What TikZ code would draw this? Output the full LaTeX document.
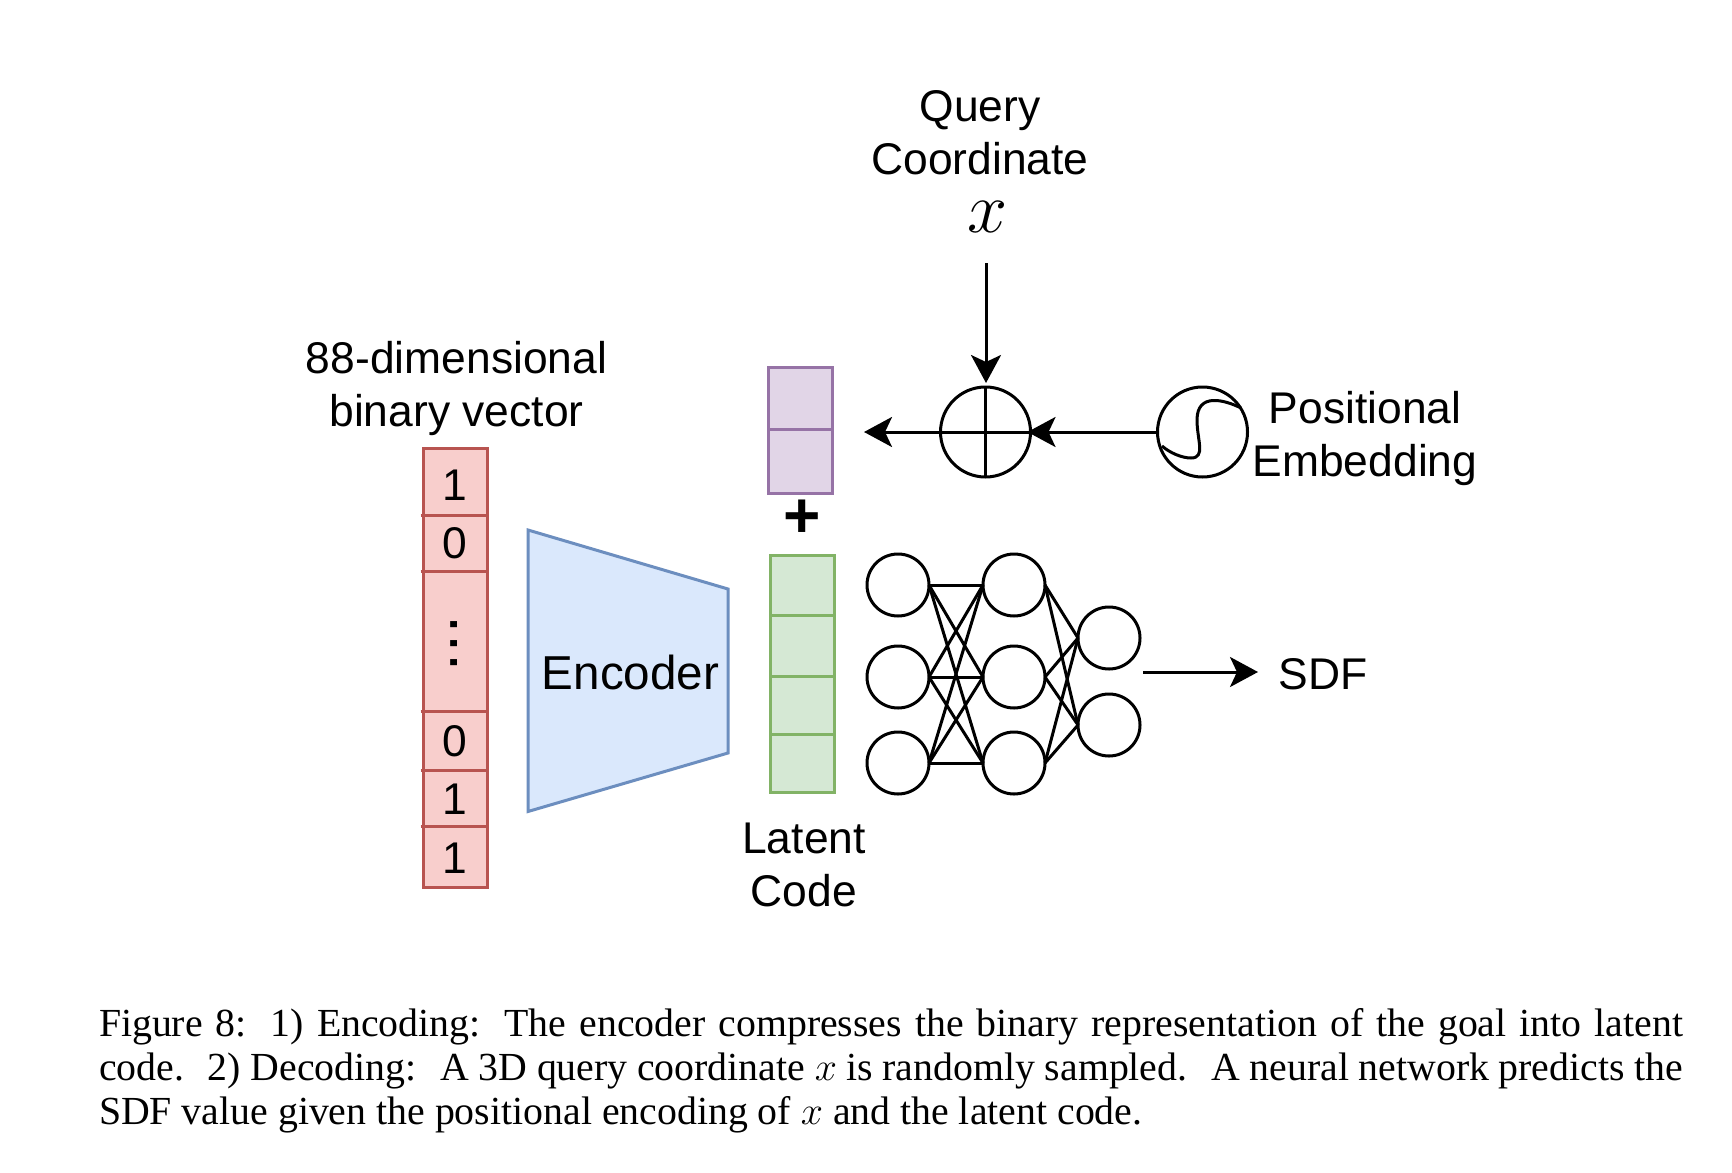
\RequirePackage{fix-cm}
\documentclass[tikz,border=0pt]{standalone}
\usepackage{fontspec}
\setmainfont{Liberation Sans}
\newfontfamily\capfont{Liberation Serif}
\usetikzlibrary{arrows.meta}
\definecolor{redfill}{HTML}{F8CECC}\definecolor{redline}{HTML}{B85450}
\definecolor{bluefill}{HTML}{DAE8FC}\definecolor{blueline}{HTML}{6C8EBF}
\definecolor{greenfill}{HTML}{D5E8D4}\definecolor{greenline}{HTML}{82B366}
\definecolor{purplefill}{HTML}{E1D5E7}\definecolor{purpleline}{HTML}{9673A6}
\tikzset{
  lbl/.style={font=\fontsize{22.2}{26.5}\selectfont, align=center, inner sep=0pt, outer sep=0pt, anchor=base},
  cellbase/.style={draw, line width=1.5pt, minimum width=32pt, inner sep=0pt, outer sep=0pt, anchor=north},
  redcell/.style={cellbase, draw=redline, fill=redfill},
  greencell/.style={cellbase, draw=greenline, fill=greenfill},
  purplecell/.style={cellbase, draw=purpleline, fill=purplefill},
  neuron/.style={circle, draw=black, line width=1.5pt, minimum size=31pt, inner sep=0pt, outer sep=0pt},
  opcircle/.style={circle, draw=black, line width=1.5pt, minimum size=45pt, inner sep=0pt, outer sep=0pt},
  edge/.style={line width=1.5pt},
  tiparrow/.style={line width=1.5pt, -{Stealth[length=14pt, width=15pt, inset=3.5pt]}},
  divider/.style={line width=1.5pt, draw=redline}
}
\begin{document}
\begin{tikzpicture}[x=0.5pt,y=-0.5pt]
\useasboundingbox (0,0) rectangle (1732,1172);

% red vector
\node[redcell, minimum height=33.5pt] (r1) at (455,448) {};
\node[redcell, minimum height=28pt] (r2) at (455,515) {};
\node[redcell, minimum height=70pt] (r3) at (455,571) {};
\node[redcell, minimum height=29.5pt] (r4) at (455,711) {};
\node[redcell, minimum height=28pt] (r5) at (455,770) {};
\node[redcell, minimum height=30.5pt] (r6) at (455,826) {};
\foreach \c in {r1,r2,r3,r4,r5}
  \draw[divider] ([xshift=-1.2pt]\c.south west) -- ([xshift=1.2pt]\c.south east);
\node[lbl] (d1) at (454.5,500) {1};
\node[lbl] (d2) at (454.5,558.5) {0};
\node[lbl] (d3) at (454.5,756) {0};
\node[lbl] (d4) at (454.5,814) {1};
\node[lbl] (d5) at (454.5,873) {1};
\node[inner sep=0pt, font=\fontsize{32}{32}\selectfont] (dots) at (454.5,644) {\rotatebox{90}{.\kern0.6pt.\kern0.6pt.}};
\node[lbl] (vec) at (456.5,426) {88-dimensional\\binary vector};

% encoder
\draw[line width=1.5pt, draw=blueline, fill=bluefill] (528,530) -- (728,589) -- (728,753) -- (528,811.5) -- cycle;
\node[lbl, font=\fontsize{23.8}{28}\selectfont] (enc) at (630.5,689) {Encoder};

% purple
\node[purplecell, minimum height=31.75pt] (p1) at (800,367) {};
\node[purplecell, minimum height=31.75pt] (p2) at (800,429.5) {};
\node[inner sep=0pt, font=\fontsize{32}{32}\selectfont\bfseries] (plus) at (802,519) {+};

% green
\node[greencell, minimum height=30pt] (g1) at (802,555) {};
\node[greencell, minimum height=30.5pt] (g2) at (802,615) {};
\node[greencell, minimum height=29pt] (g3) at (802,676) {};
\node[greencell, minimum height=29.25pt] (g4) at (802,734) {};
\node[lbl] (lat) at (804,906) {Latent\\Code};

% network
\node[neuron] (a1) at (898,585) {};
\node[neuron] (a2) at (898,677) {};
\node[neuron] (a3) at (898,763) {};
\node[neuron] (b1) at (1014,585) {};
\node[neuron] (b2) at (1014,677) {};
\node[neuron] (b3) at (1014,763) {};
\node[neuron] (c1) at (1109,638) {};
\node[neuron] (c2) at (1109,725) {};
\foreach \s in {a1,a2,a3}
  \foreach \t in {b1,b2,b3}
    \draw[edge] (\s.east) -- (\t.west);
\foreach \s in {b1,b2,b3}
  \foreach \t in {c1,c2}
    \draw[edge] (\s.east) -- (\t.west);

\coordinate (sdfstart) at (1143,672);
\coordinate (sdftip) at (1258,672);
\node[lbl] (sdf) at (1323,689) {SDF};
\draw[tiparrow] (sdfstart) -- (sdftip);

% sum and positional embedding
\node[opcircle] (sum) at (985.5,432) {};
\draw[line width=1.5pt] (sum.north) -- (sum.south);
\draw[line width=1.5pt] (sum.west) -- (sum.east);
\node[opcircle] (pos) at (1202.5,432) {};
\draw[line width=1.5pt] (1241,408) .. controls (1225,400) and (1197,392) .. (1197,420)
  .. controls (1197,440) and (1206,458) .. (1191,458)
  .. controls (1182,458) and (1170,453) .. (1162,446);
\coordinate (qstart) at (986,263);
\coordinate (ltip) at (864,432);
\draw[tiparrow, shorten >=2pt] (qstart) -- (qstart |- sum.north);
\draw[tiparrow] (sum.west) -- (ltip);
\draw[tiparrow, shorten >=-1.5pt] (pos.west) -- (sum.east);

\node[lbl] (query) at (980,174) {Query\\Coordinate};
\node[inner sep=0pt, font=\fontsize{36}{36}\selectfont] (xvar) at (988,217) {$x$};
\node[lbl] (posl) at (1365,476) {Positional\\Embedding};

% caption
\node[inner sep=0pt, outer sep=0pt, anchor=north west, text width=792pt, align=justify,
      font=\capfont\fontsize{19.9}{22}\selectfont] (cap) at (99,1008)
  {Figure 8:\hspace{.6em}1) Encoding:\hspace{.6em}The encoder compresses the binary representation of the goal into latent\linebreak
   code.\hspace{.6em}2) Decoding:\hspace{.6em}A 3D query coordinate $x$ is randomly sampled.\hspace{.6em}A neural network predicts the\linebreak
   SDF value given the positional encoding of $x$ and the latent code.\par};
\end{tikzpicture}
\end{document}
